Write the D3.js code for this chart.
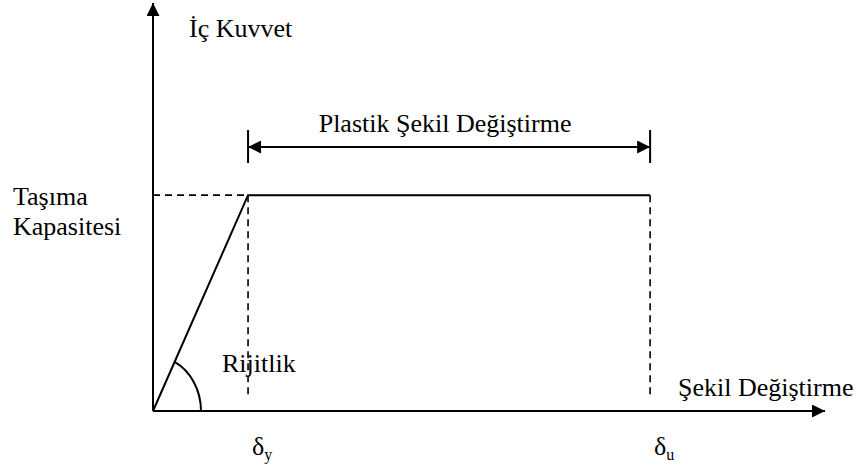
<!DOCTYPE html>
<html>
<head>
<meta charset="utf-8">
<script src="https://cdn.jsdelivr.net/npm/d3@7"></script>
<style>
  body { margin: 0; background: #fff; }
</style>
</head>
<body>
<script>
// idealised force - deformation curve (elastic / perfectly plastic)
const deformation = [0, 1, 5.23];      // 0, δy, δu
const force = [0, 1, 1];               // capacity normalised to 1
const axisMax = { x: 7.07, y: 1.89 };
const yieldDef = 1, ultimateDef = 5.23, capacity = 1;
const labels = {
  yAxis: "İç Kuvvet",
  xAxis: "Şekil Değiştirme",
  capacity: ["Taşıma", "Kapasitesi"],
  plastic: "Plastik Şekil Değiştirme",
  stiffness: "Rijitlik"
};

const serif = "'Liberation Serif', 'Times New Roman', Tinos, 'DejaVu Serif', serif";

const svg = d3.select("body").append("svg")
    .attr("width", 861)
    .attr("height", 468)
    .attr("font-family", serif);

const xScale = d3.scaleLinear().domain([0, axisMax.x]).range([153, 825]);
const yScale = d3.scaleLinear().domain([0, axisMax.y]).range([411, 3]);

// arrow heads
const defs = svg.append("defs");
defs.append("marker")
    .attr("id", "arrow")
    .attr("viewBox", "0 0 10 10")
    .attr("refX", 10).attr("refY", 5)
    .attr("markerWidth", 14).attr("markerHeight", 13)
    .attr("markerUnits", "userSpaceOnUse")
    .attr("orient", "auto-start-reverse")
    .append("path")
    .attr("d", "M0,0 L10,5 L0,10 Z")
    .attr("fill", "#000");

// axes
svg.append("line")
    .attr("x1", xScale(0)).attr("y1", yScale(0))
    .attr("x2", xScale(axisMax.x)).attr("y2", yScale(0))
    .attr("stroke", "#000").attr("stroke-width", 2)
    .attr("marker-end", "url(#arrow)");

svg.append("line")
    .attr("x1", xScale(0)).attr("y1", yScale(0))
    .attr("x2", xScale(0)).attr("y2", yScale(axisMax.y))
    .attr("stroke", "#000").attr("stroke-width", 2)
    .attr("marker-end", "url(#arrow)");

// dashed guides
const dash = "7,5";
svg.append("line")
    .attr("x1", xScale(0)).attr("y1", yScale(capacity))
    .attr("x2", xScale(yieldDef)).attr("y2", yScale(capacity))
    .attr("stroke", "#000").attr("stroke-width", 1.6)
    .attr("stroke-dasharray", dash);

[yieldDef, ultimateDef].forEach(d => {
  svg.append("line")
      .attr("x1", xScale(d)).attr("y1", yScale(capacity))
      .attr("x2", xScale(d)).attr("y2", yScale(0) - 12)
      .attr("stroke", "#000").attr("stroke-width", 1.6)
      .attr("stroke-dasharray", dash);
});

// the curve
const curve = deformation.map((d, i) => ({ d: d, f: force[i] }));
const line = d3.line()
    .x(p => xScale(p.d))
    .y(p => yScale(p.f));

svg.append("path")
    .datum(curve)
    .attr("fill", "none")
    .attr("stroke", "#000")
    .attr("stroke-width", 2)
    .attr("d", line);

// stiffness angle arc
const ox = xScale(0), oy = yScale(0);
const ang = Math.atan2(yScale(0) - yScale(capacity), xScale(yieldDef) - xScale(0));
const rx = 48, ry = 55;
// point on the ellipse along the slope
const t = Math.atan2(Math.sin(ang) / ry, Math.cos(ang) / rx);
svg.append("path")
    .attr("d", `M${ox + rx},${oy} A${rx},${ry} 0 0 0 ${ox + rx * Math.cos(t)},${oy - ry * Math.sin(t)}`)
    .attr("fill", "none")
    .attr("stroke", "#000")
    .attr("stroke-width", 2);

// plastic deformation dimension line
const dimY = 147;
[yieldDef, ultimateDef].forEach(d => {
  svg.append("line")
      .attr("x1", xScale(d)).attr("y1", 130)
      .attr("x2", xScale(d)).attr("y2", 163)
      .attr("stroke", "#000").attr("stroke-width", 2);
});
svg.append("line")
    .attr("x1", xScale(yieldDef)).attr("y1", dimY)
    .attr("x2", xScale(ultimateDef)).attr("y2", dimY)
    .attr("stroke", "#000").attr("stroke-width", 2)
    .attr("marker-start", "url(#arrow)")
    .attr("marker-end", "url(#arrow)");

// texts
const fs = 26;
function label(x, y, str, anchor) {
  return svg.append("text")
      .attr("x", x).attr("y", y)
      .attr("text-anchor", anchor || "start")
      .attr("font-family", serif)
      .style("font-size", fs + "px")
      .style("fill", "#000")
      .text(str);
}

label(189, 37, labels.yAxis);
label(13, 205, labels.capacity[0]);
label(13, 235, labels.capacity[1]);
label((xScale(yieldDef) + xScale(ultimateDef)) / 2 - 4, 132, labels.plastic, "middle");
label(222, 372, labels.stiffness);
label(678, 396, labels.xAxis);

// delta labels
[[yieldDef, "y"], [ultimateDef, "u"]].forEach(([d, sub]) => {
  const tx = label(xScale(d) + 4, 455, "δ");
  tx.append("tspan")
      .attr("dy", 5)
      .style("font-size", "16px")
      .text(sub);
});
</script>
</body>
</html>
